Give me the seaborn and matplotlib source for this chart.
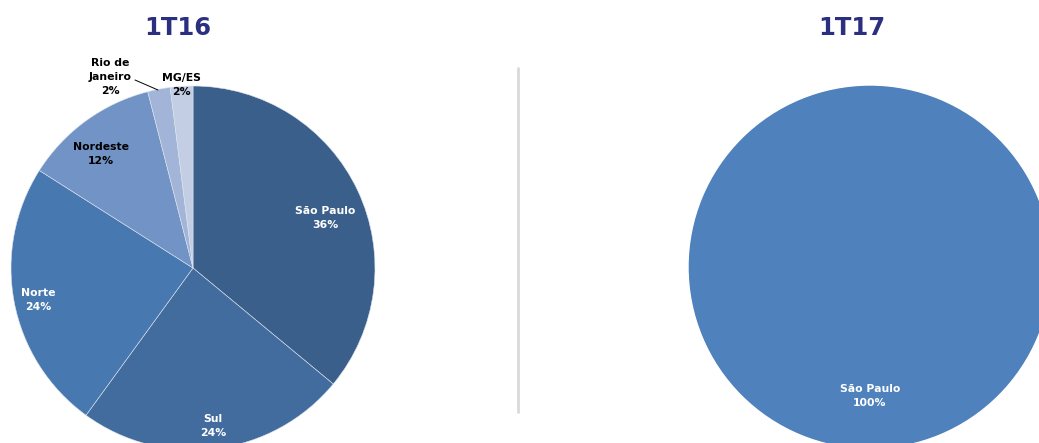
import numpy as np
import matplotlib
matplotlib.use("Agg")
import matplotlib.pyplot as plt
from matplotlib.lines import Line2D
import seaborn as sns

# Regional revenue breakdown, 1T16 vs 1T17
regions_16 = ["São Paulo", "Sul", "Norte", "Nordeste", "Rio de\nJaneiro", "MG/ES"]
shares_16 = [36, 24, 24, 12, 2, 2]
regions_17 = ["São Paulo"]
shares_17 = [100]
titles = ["1T16", "1T17"]

colors_16 = ["#3A5F8B", "#426C9E", "#4878B0", "#7293C5", "#A2B5D9", "#C3CDE4"]
colors_17 = ["#4F81BD"]
label_colors_16 = ["white", "white", "white", "black", "black", "black"]

sns.set_theme(style="white")
plt.rcParams["font.family"] = ["DejaVu Sans"]

W, H = 1039, 443
fig = plt.figure(figsize=(W / 100, H / 100), dpi=100)
fig.patch.set_facecolor("white")

R = 182
CX1, CY1 = 193, 268
CX2, CY2 = 870, 267

# label anchor points (pixel layout) for each 1T16 slice
label_px = [(325, 218), (213, 426), (38, 300), (101, 154), (110, 77), (181, 85)]


def pie_axes(cx, cy):
    ax = fig.add_axes([(cx - R) / W, (H - cy - R) / H, 2 * R / W, 2 * R / H])
    ax.axis("off")
    return ax


def fix_limits(ax):
    ax.set_xlim(-1, 1)
    ax.set_ylim(-1, 1)
    ax.set_aspect("equal")


FS = 7.8
LS = 1.55

# ---- 1T16 ----
ax1 = pie_axes(CX1, CY1)
wedges, _ = ax1.pie(shares_16, colors=colors_16, startangle=90, counterclock=False,
                    radius=1.0, wedgeprops=dict(edgecolor="#DDE3EE", linewidth=0.4))
fix_limits(ax1)
for w in wedges:
    w.set_clip_on(False)

for (px, py), name, val, c in zip(label_px, regions_16, shares_16, label_colors_16):
    ax1.text((px - CX1) / R, (CY1 - py) / R, f"{name}\n{val}%", ha="center",
             va="center", fontsize=FS, fontweight="bold", color=c,
             linespacing=LS, clip_on=False)

# leader line for the Rio de Janeiro slice
ax1.add_line(Line2D([(135 - CX1) / R, (158 - CX1) / R], [(CY1 - 80) / R, (CY1 - 90) / R],
                    color="black", lw=0.7, clip_on=False))

# ---- 1T17 ----
ax2 = pie_axes(CX2, CY2)
wedges2, _ = ax2.pie(shares_17, colors=colors_17, startangle=90, counterclock=False,
                     radius=1.0)
fix_limits(ax2)
for w in wedges2:
    w.set_clip_on(False)
ax2.text(0, (CY2 - 396) / R, f"{regions_17[0]}\n{shares_17[0]}%", ha="center",
         va="center", fontsize=FS, fontweight="bold", color="white", linespacing=LS)

# titles
for x, t in zip([178, 852], titles):
    fig.text(x / W, 1 - 28 / H, t, ha="center", va="center", fontsize=17.5,
             fontweight="heavy", color="#2B2F80")

# divider between the two charts
fig.add_artist(Line2D([518 / W, 518 / W], [1 - 68 / H, 1 - 412 / H],
                      color="#D9D9D9", lw=2, transform=fig.transFigure))

fig.savefig("out.png", dpi=100, facecolor="white")
